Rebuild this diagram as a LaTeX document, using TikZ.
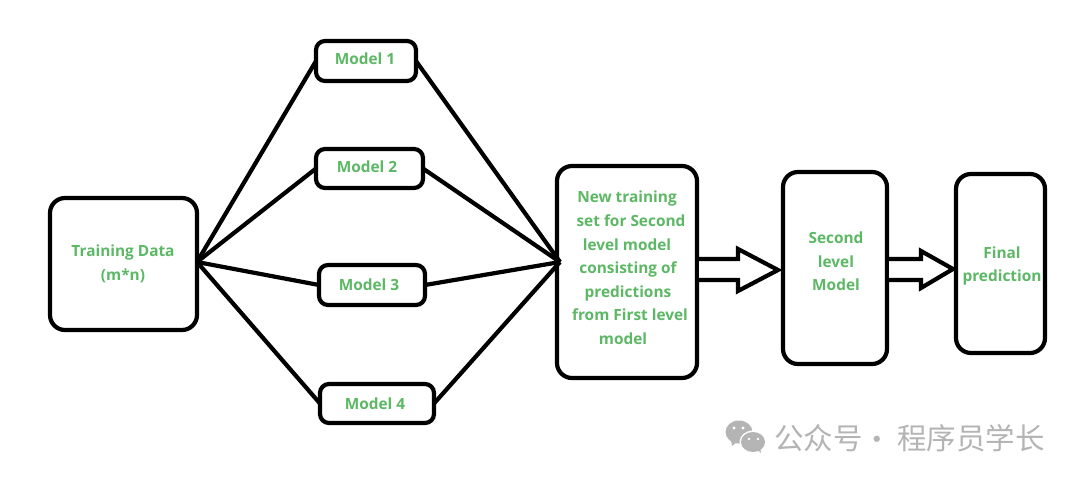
\documentclass[tikz,border=0pt]{standalone}
\usepackage{fontspec}
\setmainfont{Open Sans}
\newfontfamily\cjkfont{Noto Sans CJK SC}
\definecolor{labelgreen}{HTML}{5CB865}
\definecolor{markgray}{HTML}{B4B4B4}
\tikzset{
  every node/.style={inner sep=0pt, outer sep=0pt},
  boxdim/.style 2 args={minimum width=#1pt, minimum height=#2pt},
  bigbox/.style={draw=black, line width=4.2pt, rounded corners=15pt, anchor=north west},
  modelbox/.style={draw=black, line width=4.2pt, rounded corners=9pt, anchor=north west},
  labeltext/.style={text=labelgreen, font=\fontsize{15.4}{23.6}\selectfont\bfseries, align=center},
  link/.style={draw=black, line width=4.2pt},
  blockarrow/.style={draw=black, line width=4.2pt, fill=white, line join=miter},
  marktext/.style={text=markgray, font=\cjkfont\fontsize{29.5}{31}\selectfont}
}
\begin{document}
\begin{tikzpicture}[x=1pt,y=-1pt]
\useasboundingbox (0,0) rectangle (1080,480);
\fill[white] (0,0) rectangle (1080,480);

% fan-in and fan-out points of the first level
\coordinate (fanout) at (197,262);
\coordinate (fanin) at (560,262);

% boxes
\node[bigbox, boxdim={147}{132}] (train) at (50,198) {};
\node[modelbox, boxdim={100}{40}] (m1) at (316,41) {};
\node[modelbox, boxdim={107}{39}] (m2) at (316,149) {};
\node[modelbox, boxdim={106}{40}] (m3) at (319,265) {};
\node[modelbox, boxdim={114}{39}] (m4) at (320,384) {};
\node[bigbox, boxdim={140}{212}] (newset) at (557,166) {};
\node[bigbox, boxdim={104}{192}] (second) at (783,172) {};
\node[bigbox, boxdim={89}{179}] (final) at (956,174) {};

% connectors of the first level
\foreach \m in {m1,m2,m3,m4}{
  \draw[link] (fanout) -- (\m.west);
  \draw[link] (\m.east) -- (fanin);
}

% hollow block arrows between the later stages
\coordinate (arrowA) at (699,259);
\coordinate (arrowAtip) at (778,270);
\coordinate (arrowB) at (889,259);
\coordinate (arrowBtip) at (953,269);
\draw[blockarrow] (arrowA) -- ++(39,0) -- ++(0,-10) -- (arrowAtip) -- (738,291) -- ++(0,-11) -- ++(-39,0);
\draw[blockarrow] (arrowB) -- ++(32,0) -- ++(0,-8) -- (arrowBtip) -- (921,288) -- ++(0,-8) -- ++(-32,0);

% labels
\node[labeltext] (ltrain) at (123,264) {Training Data\\(m*n)};
\node[labeltext] (l1) at (365,59) {Model 1};
\node[labeltext] (l2) at (367,167) {Model 2};
\node[labeltext] (l3) at (369,285) {Model 3};
\node[labeltext] (l4) at (375,404) {Model 4};
\node[labeltext] (lnew) at (627,268) {New training\\
  \hspace*{8pt}set for Second\\
  level model\\
  \hspace*{2pt}consisting of\\
  \hspace*{2pt}predictions\\
  \hspace*{6pt}from First level\\
  \hspace*{-8pt}model};
\node[labeltext] (lsecond) at (836,261.5) {Second\\level\\Model};
\node[labeltext] (lfinal) at (1002,266) {Final\\prediction};

% account mark, lower right
\fill[markgray] (739,432) ellipse [x radius=13.5, y radius=11.5];
\fill[markgray] (731,440) -- (732,446) -- (738,441) -- cycle;
\fill[white] (753,442) ellipse [x radius=13.5, y radius=11.5];
\fill[markgray] (753,442) ellipse [x radius=12, y radius=10];
\fill[markgray] (758,450) -- (761,453) -- (760,447) -- cycle;
\foreach \ex/\ey in {734/428,743/428}{\fill[white] (\ex,\ey) circle (1.6);}
\foreach \ex/\ey in {749/439,758/439}{\fill[white] (\ex,\ey) circle (1.4);}
\node[marktext, anchor=west] (mark1) at (774,438) {公众号};
\node[marktext, anchor=center] (markdot) at (877,443) {·};
\node[marktext, anchor=west] (mark2) at (897,438) {程序员学长};
\end{tikzpicture}
\end{document}
